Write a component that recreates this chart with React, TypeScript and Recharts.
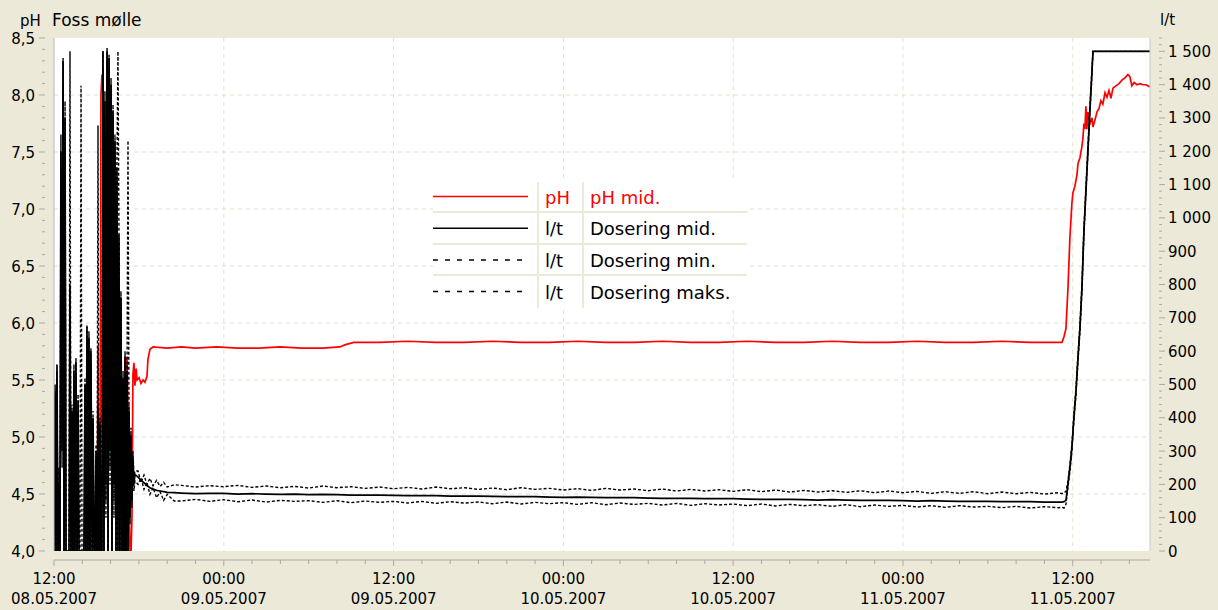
import React from 'react';
import { ComposedChart, Line, XAxis, YAxis, CartesianGrid, Legend } from 'recharts';

const FONT = '"DejaVu Sans", Verdana, sans-serif';
const BG = '#ECE9D8';
const AXIS = '#A9A9A9';
const GRID = '#E4E0CC';

// x = hours after 08.05.2007 12:00
const X_END = 77.46;
const X_MAJOR = [0, 12, 24, 36, 48, 60, 72];
const X_TIME = ['12:00', '00:00', '12:00', '00:00', '12:00', '00:00', '12:00'];
const X_DATE = ['08.05.2007', '09.05.2007', '09.05.2007', '10.05.2007', '10.05.2007', '11.05.2007', '11.05.2007'];
const X_GRID = [12, 24, 36, 48, 60, 72];

const PH_MAJOR = [4, 4.5, 5, 5.5, 6, 6.5, 7, 7.5, 8, 8.5];
const PH_LABELS = ['4,0', '4,5', '5,0', '5,5', '6,0', '6,5', '7,0', '7,5', '8,0', '8,5'];
const PH_GRID = [4.5, 5, 5.5, 6, 6.5, 7, 7.5, 8];

const DOSE_MAJOR = [0, 100, 200, 300, 400, 500, 600, 700, 800, 900, 1000, 1100, 1200, 1300, 1400, 1500];
const DOSE_LABELS = ['0', '100', '200', '300', '400', '500', '600', '700', '800', '900',
  '1 000', '1 100', '1 200', '1 300', '1 400', '1 500'];

// pH mid.
const PH_T_EARLY = [
  0.0, 3.04, 3.11, 3.18, 3.25, 3.32, 3.39, 3.46, 3.53, 3.67,
  3.75, 3.89, 3.96, 4.03, 4.1, 4.17, 4.24, 4.31, 4.38, 4.45,
  4.52, 4.59, 4.73, 4.88, 5.02, 5.09, 5.16, 5.23, 5.3, 5.37,
  5.44, 5.51, 5.58, 5.65, 5.72, 5.8, 5.87, 6.01, 6.15, 6.29,
  6.43, 6.57, 6.64, 6.78, 7.0,
];
const PH_V_EARLY = [
  3.9, 3.9, 5.8, 3.95, 3.95, 8.0, 8.18, 8.1, 7.5, 6.5,
  5.7, 5.0, 4.95, 5.3, 5.4, 5.35, 5.5, 5.35, 5.25, 5.3,
  5.15, 4.7, 4.6, 4.3, 3.95, 5.65, 5.7, 5.2, 4.6, 4.0,
  3.95, 4.3, 5.55, 5.65, 5.45, 5.6, 5.5, 5.52, 5.47, 5.5,
  5.48, 5.53, 5.68, 5.77, 5.79,
];
const PH_T_FLAT = [
  8, 9, 10, 11.5, 13, 14.5, 16, 17.5, 19, 20.2, 20.6, 21.2, 23, 25, 27, 29, 31, 33,
  35, 37, 39, 41, 43, 45, 47, 49, 51, 53, 55, 57, 59, 61, 63, 65, 67, 69,
];
const PH_V_FLAT = [
  5.78, 5.79, 5.78, 5.79, 5.78, 5.78, 5.79, 5.78, 5.78, 5.79, 5.81, 5.83, 5.83, 5.84, 5.83, 5.83, 5.84, 5.83,
  5.83, 5.84, 5.83, 5.83, 5.84, 5.83, 5.83, 5.84, 5.83, 5.83, 5.84, 5.83, 5.83, 5.84, 5.83, 5.83, 5.84, 5.83,
];
const PH_T_RISE = [
  71.24, 71.38, 71.52, 71.66, 71.8, 71.94, 72.01, 72.15, 72.3, 72.37,
  72.51, 72.65, 72.72, 72.79, 72.86, 72.93, 73.0, 73.07, 73.22, 73.36,
  73.43, 73.57, 73.71, 73.85, 73.99, 74.13, 74.28, 74.42, 74.56, 74.7,
  74.84, 75.05, 75.27, 75.48, 75.69, 75.9, 76.04, 76.18, 76.33, 76.54,
  76.75, 76.96, 77.17, 77.46,
];
const PH_V_RISE = [
  5.83, 5.88, 5.95, 6.3, 6.75, 7.05, 7.14, 7.2, 7.3, 7.4,
  7.45, 7.55, 7.62, 7.75, 7.7, 7.9, 7.7, 7.85, 7.75, 7.8,
  7.72, 7.78, 7.85, 7.88, 7.95, 7.92, 8.02, 7.98, 8.04, 7.97,
  8.06, 8.08, 8.1, 8.13, 8.15, 8.18, 8.16, 8.08, 8.11, 8.09,
  8.1, 8.09, 8.09, 8.07,
];

// Dosering (l/t): shared time stamps
const DOSE_T_EARLY = [
  0.0, 0.07, 0.14, 0.21, 0.28, 0.35, 0.42, 0.49, 0.57, 0.64,
  0.71, 0.78, 0.85, 0.92, 0.99, 1.06, 1.13, 1.2, 1.27, 1.34,
  1.41, 1.48, 1.55, 1.63, 1.7, 1.77, 1.84, 1.91, 1.98, 2.05,
  2.12, 2.19, 2.26, 2.33, 2.4, 2.47, 2.54, 2.61, 2.69, 2.76,
  2.83, 2.9, 2.97, 3.04, 3.11, 3.18, 3.25, 3.32, 3.39, 3.46,
  3.53, 3.6, 3.67, 3.75, 3.82, 3.89, 3.96, 4.03, 4.1, 4.17,
  4.24, 4.31, 4.38, 4.45, 4.52, 4.59, 4.66, 4.73, 4.81, 4.88,
  4.95, 5.02, 5.09, 5.16, 5.23, 5.3, 5.37, 5.44, 5.51, 5.58,
  5.65, 5.72,
];
const DOSE_T_SETTLE = [5.94, 6.15, 6.36, 6.57, 6.78, 7.0, 7.25, 7.5, 7.75, 8.0, 8.5];
const DOSE_T_FLAT = [
  9, 10, 11, 12, 13, 14, 15, 16, 17, 18,
  19, 20, 21, 22, 23, 24, 25, 26, 27, 28,
  29, 30, 31, 32, 33, 34, 35, 36, 37, 38,
  39, 40, 41, 42, 43, 44, 45, 46, 47, 48,
  49, 50, 51, 52, 53, 54, 55, 56, 57, 58,
  59, 60, 61, 62, 63, 64, 65, 66, 67, 68,
  69, 70, 71,
];
const DOSE_T_RISE = [
  71.24, 71.38, 71.52, 71.66, 71.8, 71.94, 72.08, 72.23, 72.37, 72.51,
  72.65, 72.79, 72.93, 73.07, 73.22, 73.36, 73.43, 77.46,
];

const MID_EARLY = [
  0, 500, 0, 560, 0, 200, 0, 1200, 300, 1470,
  0, 1300, 0, 0, 0, 0, 800, 0, 420, 0,
  540, 0, 568, 0, 450, 0, 0, 0, 0, 0,
  0, 500, 0, 673, 0, 640, 0, 600, 0, 400,
  0, 0, 300, 0, 420, 0, 380, 0, 0, 1500,
  0, 1350, 200, 1500, 0, 1480, 300, 1400, 0, 1320,
  200, 1230, 0, 1150, 0, 950, 0, 760, 0, 520,
  0, 583, 0, 540, 0, 420, 100, 350, 150, 280,
  200, 230,
];
const MID_SETTLE = [222, 212, 205, 196, 190, 186, 182, 180, 178, 176, 175];
const MID_FLAT = [
  174, 172, 173, 173, 171, 172, 171, 170, 171, 169,
  170, 169, 168, 168, 168, 167, 166, 166, 166, 165,
  165, 165, 164, 163, 163, 163, 162, 161, 162, 161,
  160, 160, 160, 159, 158, 158, 158, 157, 157, 157,
  156, 155, 155, 155, 154, 153, 154, 153, 152, 152,
  152, 151, 150, 151, 150, 149, 149, 149, 148, 148,
  148, 147, 147,
];
const MID_RISE = [147, 148, 152, 200, 250, 310, 400, 480, 580, 670, 790, 960, 1080, 1200, 1330, 1440, 1500, 1500];

const MAX_EARLY = [
  0, 480, 0, 540, 0, 250, 0, 1250, 400, 1480,
  0, 1350, 0, 0, 0, 0, 1500, 0, 440, 0,
  560, 0, 580, 0, 470, 0, 0, 0, 0, 0,
  0, 520, 0, 680, 0, 660, 0, 610, 0, 420,
  0, 0, 320, 0, 440, 0, 400, 0, 0, 1500,
  0, 1380, 150, 1510, 0, 1490, 250, 1420, 0, 1340,
  150, 1250, 0, 1170, 1500, 970, 0, 780, 0, 540,
  0, 600, 0, 560, 0, 440, 120, 370, 180, 300,
  220, 240,
];
const MAX_SETTLE = [240, 205, 228, 200, 218, 196, 212, 194, 206, 192, 199];
const MAX_FLAT = [
  197, 192, 196, 193, 197, 191, 195, 190, 194, 189,
  195, 190, 193, 188, 192, 187, 191, 186, 192, 187,
  190, 185, 189, 184, 190, 185, 188, 183, 187, 182,
  188, 183, 186, 181, 186, 180, 185, 180, 184, 179,
  184, 178, 183, 177, 182, 177, 181, 176, 181, 175,
  180, 175, 179, 173, 178, 173, 178, 172, 177, 172,
  176, 171, 175,
];
const MAX_RISE = [172, 176, 178, 210, 260, 320, 410, 490, 590, 680, 800, 970, 1090, 1210, 1340, 1450, 1500, 1500];

const MIN_EARLY = [
  0, 450, 0, 500, 0, 150, 0, 1100, 250, 1400,
  0, 1200, 0, 0, 0, 0, 0, 0, 380, 0,
  500, 0, 530, 0, 420, 0, 0, 1397, 0, 0,
  0, 470, 0, 640, 0, 600, 0, 560, 0, 380,
  0, 0, 280, 0, 1277, 0, 350, 0, 0, 1450,
  0, 1300, 100, 1470, 0, 1450, 200, 1380, 0, 1300,
  100, 1200, 0, 1120, 0, 930, 0, 740, 0, 500,
  0, 560, 0, 520, 1232, 400, 80, 330, 130, 260,
  180, 210,
];
const MIN_SETTLE = [200, 220, 185, 205, 170, 190, 160, 178, 152, 170, 150];
const MIN_FLAT = [
  150, 155, 149, 154, 148, 153, 147, 152, 149, 151,
  146, 151, 145, 150, 146, 149, 144, 149, 143, 148,
  144, 147, 142, 147, 141, 146, 142, 145, 140, 145,
  139, 144, 140, 143, 138, 143, 137, 142, 138, 141,
  136, 141, 135, 140, 136, 139, 134, 139, 133, 138,
  134, 137, 132, 136, 131, 136, 132, 134, 130, 134,
  129, 133, 130,
];
const MIN_RISE = [131, 129, 140, 190, 240, 300, 390, 470, 570, 660, 780, 950, 1070, 1190, 1320, 1430, 1500, 1500];

const LEGEND_ROWS = [
  { unit: 'pH', name: 'pH mid.', color: '#FF0000', dash: undefined as string | undefined },
  { unit: 'l/t', name: 'Dosering mid.', color: '#000000', dash: undefined as string | undefined },
  { unit: 'l/t', name: 'Dosering min.', color: '#000000', dash: '5 7' },
  { unit: 'l/t', name: 'Dosering maks.', color: '#000000', dash: '5 7' },
];

const toPoints = (t: number[], v: number[]) => t.map((x, i) => ({ t: x, v: v[i] }));

const phData = toPoints(
  [...PH_T_EARLY, ...PH_T_FLAT, ...PH_T_RISE],
  [...PH_V_EARLY, ...PH_V_FLAT, ...PH_V_RISE],
);
const DOSE_T = [...DOSE_T_EARLY, ...DOSE_T_SETTLE, ...DOSE_T_FLAT, ...DOSE_T_RISE];
const midData = toPoints(DOSE_T, [...MID_EARLY, ...MID_SETTLE, ...MID_FLAT, ...MID_RISE]);
const maxData = toPoints(DOSE_T, [...MAX_EARLY, ...MAX_SETTLE, ...MAX_FLAT, ...MAX_RISE]);
const minData = toPoints(DOSE_T, [...MIN_EARLY, ...MIN_SETTLE, ...MIN_FLAT, ...MIN_RISE]);

// tick positions (minor + major)
const X_TICKS = Array.from({ length: 39 }, (_, i) => i * 2);
const PH_TICKS = Array.from({ length: 46 }, (_, i) => Math.round((4 + i * 0.1) * 10) / 10);
const DOSE_TICKS = Array.from({ length: 78 }, (_, i) => i * 20);

const findMajor = (list: number[], v: number) => list.findIndex(m => Math.abs(m - v) < 1e-6);

function TimeTick(props: any) {
  const { x, y, payload } = props;
  const i = findMajor(X_MAJOR, payload.value);
  const ay = y + 9;
  return (
    <g>
      {payload.value === 0 && <line x1={x} x2={x + 1096} y1={ay} y2={ay} stroke={AXIS} />}
      <line x1={x} x2={x} y1={ay} y2={ay + (i >= 0 ? 6 : 4)} stroke={AXIS} />
      {i >= 0 && (
        <text x={x} y={y + 33} textAnchor="middle" fontFamily={FONT} fontSize={15} fill="#000">
          {X_TIME[i]}
        </text>
      )}
      {i >= 0 && (
        <text x={x} y={y + 53} textAnchor="middle" fontFamily={FONT} fontSize={15} fill="#000">
          {X_DATE[i]}
        </text>
      )}
    </g>
  );
}

function PhTick(props: any) {
  const { x, y, payload } = props;
  const i = findMajor(PH_MAJOR, payload.value);
  if (i < 0) return <line x1={x - 12} x2={x - 9} y1={y} y2={y} stroke={AXIS} />;
  return (
    <g>
      <line x1={x - 15} x2={x - 9} y1={y} y2={y} stroke={AXIS} />
      <text x={x - 19} y={y + 5.5} textAnchor="end" fontFamily={FONT} fontSize={15} fill="#000">
        {PH_LABELS[i]}
      </text>
    </g>
  );
}

function DoseTick(props: any) {
  const { x, y, payload } = props;
  const i = findMajor(DOSE_MAJOR, payload.value);
  if (i < 0) return <line x1={x + 9} x2={x + 12} y1={y} y2={y} stroke={AXIS} />;
  return (
    <g>
      <line x1={x + 9} x2={x + 15} y1={y} y2={y} stroke={AXIS} />
      <text x={x + 18} y={y + 5.5} textAnchor="start" fontFamily={FONT} fontSize={15} fill="#000">
        {DOSE_LABELS[i]}
      </text>
    </g>
  );
}

function LegendBox() {
  const sep = BG;
  return (
    <svg width={320} height={130} style={{ display: 'block' }}>
      <rect x={3} y={2} width={314} height={126} fill="#fff" />
      {[32, 64, 95].map(y => (
        <line key={y} x1={3} x2={317} y1={y} y2={y} stroke={sep} strokeWidth={2} />
      ))}
      <line x1={108} x2={108} y1={2} y2={128} stroke={sep} strokeWidth={2} />
      <line x1={153} x2={153} y1={2} y2={128} stroke={sep} strokeWidth={2} />
      {LEGEND_ROWS.map((r, i) => {
        const cy = 16.5 + i * 31.7;
        return (
          <g key={r.name}>
            <line x1={3} x2={98} y1={cy} y2={cy} stroke={r.color} strokeWidth={1.5} strokeDasharray={r.dash} />
            <text x={115} y={cy + 7} fontFamily={FONT} fontSize={18} fill={r.color}>{r.unit}</text>
            <text x={160} y={cy + 7} fontFamily={FONT} fontSize={18} fill={r.color}>{r.name}</text>
          </g>
        );
      })}
    </svg>
  );
}

export default function App() {
  return (
    <div style={{ position: 'absolute', left: 0, top: 0, width: 1218, height: 610, background: BG }}>
      <ComposedChart width={1218} height={610} margin={{ top: 38, right: 0, bottom: 0, left: 0 }}>
        <CartesianGrid
          yAxisId="ph"
          fill="#FFFFFF"
          stroke={GRID}
          strokeDasharray="4 4"
          horizontalValues={PH_GRID}
          verticalValues={X_GRID}
        />
        <XAxis
          dataKey="t"
          type="number"
          domain={[0, X_END]}
          ticks={X_TICKS}
          interval={0}
          height={59}
          tickSize={0}
          tickMargin={0}
          axisLine={false}
          tickLine={false}
          tick={TimeTick}
          allowDataOverflow
        />
        <YAxis
          yAxisId="ph"
          orientation="left"
          domain={[4, 8.5]}
          ticks={PH_TICKS}
          interval={0}
          width={54}
          tickSize={0}
          tickMargin={0}
          axisLine={{ stroke: '#B8B8B8' }}
          tickLine={false}
          tick={PhTick}
          allowDataOverflow
        />
        <YAxis
          yAxisId="dose"
          orientation="right"
          domain={[0, 1540]}
          ticks={DOSE_TICKS}
          interval={0}
          width={68}
          tickSize={0}
          tickMargin={0}
          axisLine={{ stroke: '#C8C8C8' }}
          tickLine={false}
          tick={DoseTick}
          allowDataOverflow
        />
        <Line
          yAxisId="ph"
          data={phData}
          dataKey="v"
          name="pH mid."
          stroke="#FF0000"
          strokeWidth={1.7}
          dot={false}
          isAnimationActive={false}
        />
        <Line
          yAxisId="dose"
          data={maxData}
          dataKey="v"
          name="Dosering maks."
          stroke="#000000"
          strokeWidth={1.4}
          strokeDasharray="3 2"
          dot={false}
          isAnimationActive={false}
        />
        <Line
          yAxisId="dose"
          data={minData}
          dataKey="v"
          name="Dosering min."
          stroke="#000000"
          strokeWidth={1.4}
          strokeDasharray="3 2"
          dot={false}
          isAnimationActive={false}
        />
        <Line
          yAxisId="dose"
          data={midData}
          dataKey="v"
          name="Dosering mid."
          stroke="#000000"
          strokeWidth={1.7}
          dot={false}
          isAnimationActive={false}
        />
        <Legend
          layout="vertical"
          align="center"
          verticalAlign="middle"
          content={LegendBox}
          wrapperStyle={{ left: 430, top: 180, width: 320, height: 130 }}
        />
      </ComposedChart>
      <svg
        width={1218}
        height={36}
        style={{ position: 'absolute', left: 0, top: 0, pointerEvents: 'none' }}
      >
        <text x={20} y={26} fontFamily={FONT} fontSize={15} fill="#000">pH</text>
        <text x={52} y={26} fontFamily={FONT} fontSize={17} fill="#000">Foss mølle</text>
        <text x={1160} y={25} fontFamily={FONT} fontSize={15} fill="#000">l/t</text>
      </svg>
    </div>
  );
}
